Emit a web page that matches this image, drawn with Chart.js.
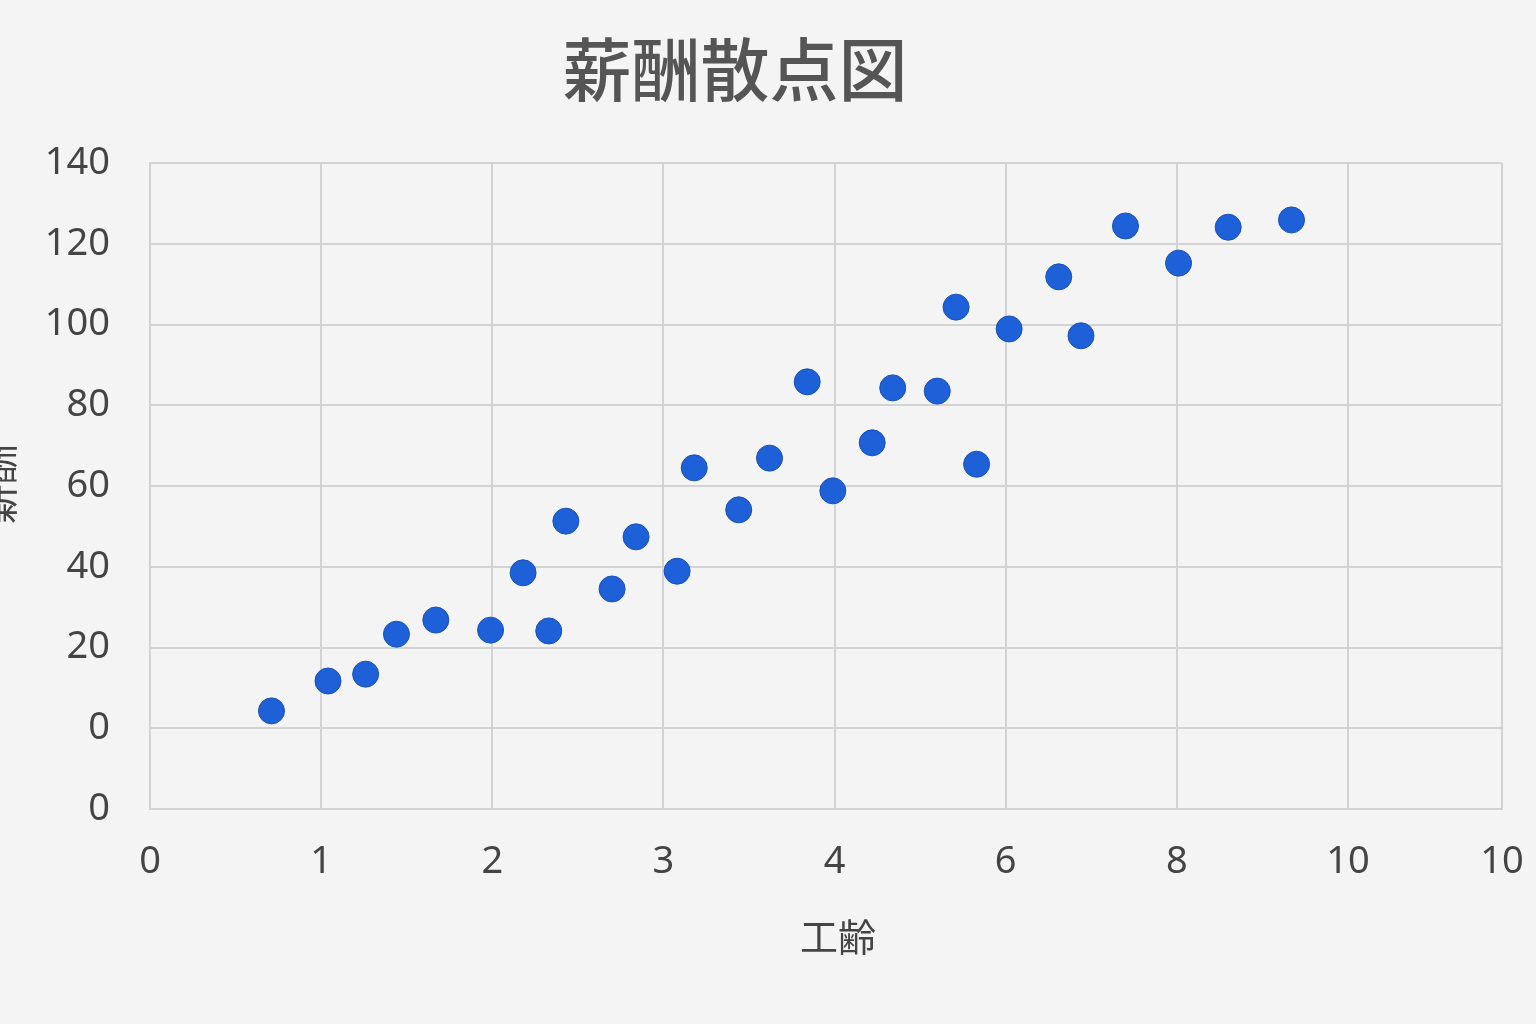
<!DOCTYPE html>
<html>
<head>
<meta charset="utf-8">
<script src="https://cdn.jsdelivr.net/npm/chart.js@4"></script>
<style>
  html, body { margin:0; padding:0; background:#f4f4f4; }
  #wrap { width:1536px; height:1024px; }
</style>
</head>
<body>
<div id="wrap"><canvas id="c" width="1536" height="1024"></canvas></div>
<script>
// chart text
const chartTitle = '薪酬散点図';
const xTitle = '工齢';
const yTitle = '薪酬';

// axis ticks (labels as printed in the picture; x grid is index-based)
const xTickPos = [0, 1, 2, 3, 4, 5, 6, 7, 7.9];
const xTickLabels = ['0', '1', '2', '3', '4', '6', '8', '10', '10'];
const yTickLabels = ['0', '0', '20', '40', '60', '80', '100', '120', '140'];

// points: x in grid units, y in salary units
const expX = [0.71, 1.04, 1.26, 1.44, 1.67, 1.99, 2.18, 2.33, 2.43, 2.70,
              2.84, 3.08, 3.18, 3.44, 3.62, 3.84, 3.99, 4.22, 4.34, 4.60,
              4.71, 4.83, 5.02, 5.31, 5.44, 5.70, 6.01, 6.30, 6.67];
const salary = [4.3, 11.7, 13.4, 23.3, 26.8, 24.3, 38.5, 24.1, 51.3, 34.5,
                47.4, 38.9, 64.5, 54.1, 66.9, 85.8, 58.8, 70.7, 84.3, 83.5,
                104.3, 65.4, 98.9, 111.8, 97.2, 124.4, 115.2, 124.1, 125.9];

const points = expX.map((x, i) => ({ x, y: salary[i] }));

const gridCol = '#d3d3d3';
const tickFont = { family: '"Noto Sans", "Open Sans", sans-serif', size: 38 };
const cjk = '"Noto Sans CJK JP", "Noto Sans CJK SC", sans-serif';

// titles drawn by hand so they sit where the reference has them
const titles = {
  id: 'titles',
  afterDraw(chart){
    const ctx = chart.ctx;
    ctx.save();
    ctx.fillStyle = '#555';
    ctx.textAlign = 'center';
    ctx.textBaseline = 'middle';
    ctx.font = '500 69px ' + cjk;
    ctx.fillText(chartTitle, 735, 70);
    ctx.fillStyle = '#444';
    ctx.font = '38px ' + cjk;
    ctx.fillText(xTitle, 838, 937);
    ctx.translate(-2, 484);
    ctx.rotate(-Math.PI/2);
    ctx.font = '40px ' + cjk;
    ctx.fillText(yTitle, 0, 0);
    ctx.restore();
  }
};

new Chart(document.getElementById('c').getContext('2d'), {
  type: 'scatter',
  data: {
    datasets: [{
      label: yTitle,
      data: points,
      backgroundColor: '#1d60d8',
      borderColor: '#1a4fb5',
      borderWidth: 1,
      pointRadius: 13,
      pointHoverRadius: 13
    }]
  },
  options: {
    responsive: false,
    animation: false,
    layout: { padding: { top: 163, right: 34, left: 0, bottom: 0 } },
    plugins: { legend: { display: false }, tooltip: { enabled: false } },
    scales: {
      x: {
        type: 'linear', min: 0, max: 7.9,
        afterBuildTicks: s => { s.ticks = xTickPos.map(v => ({ value: v })); },
        afterFit: s => { s.height = 215; s.paddingLeft = 0; s.paddingRight = 0; },
        grid: { color: gridCol, lineWidth: 2, drawTicks: false },
        border: { color: gridCol, width: 2 },
        ticks: {
          padding: 30, color: '#444', font: tickFont, maxRotation: 0, autoSkip: false,
          callback: (v, i) => xTickLabels[i]
        }
      },
      y: {
        type: 'linear', min: -20, max: 140,
        ticks: {
          stepSize: 20, padding: 40, color: '#444', font: tickFont,
          callback: (v, i) => yTickLabels[i]
        },
        afterFit: s => { s.width = 150; s.paddingTop = 0; s.paddingBottom = 0; },
        grid: { color: gridCol, lineWidth: 2, drawTicks: false },
        border: { color: gridCol, width: 2 }
      }
    }
  },
  plugins: [titles]
});
</script>
</body>
</html>
